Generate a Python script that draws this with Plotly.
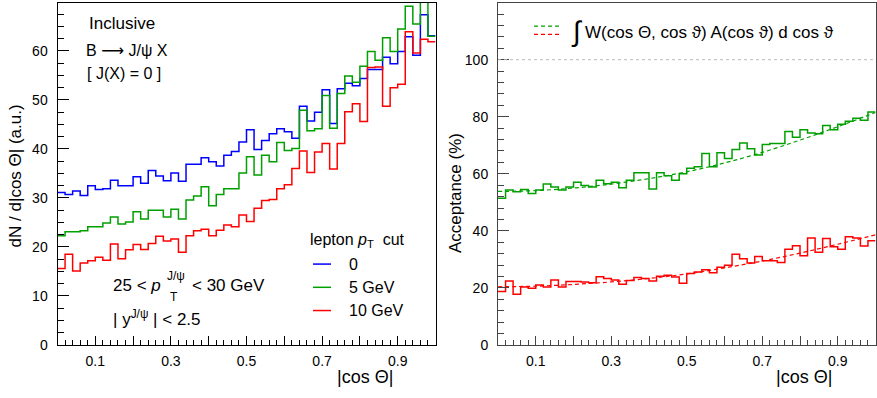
import numpy as np
import plotly.graph_objects as go

W, H = 877, 398
FONT = "Liberation Sans, Arial, Helvetica, sans-serif"

# ---------------- data ----------------
n_bins = 50
bin_edges = np.linspace(0.0, 1.0, n_bins + 1)

# left panel: dN/d|cos Theta| (a.u.)
dn_cut0 = [31.1, 30.7, 31.4, 30.5, 32.5, 31.7, 31.9, 33.6, 32.5, 32.5,
           34.3, 33.0, 35.6, 34.5, 33.5, 35.1, 33.4, 36.9, 36.9, 38.2,
           37.4, 36.5, 38.7, 39.5, 41.4, 43.9, 39.9, 41.7, 43.1, 44.1,
           43.5, 42.2, 48.7, 45.7, 47.5, 52.1, 45.2, 52.3, 53.4, 52.9,
           54.4, 56.2, 56.2, 58.7, 57.4, 59.9, 62.9, 59.1, 67.4, 63.1]
dn_cut5 = [22.3, 23.1, 23.1, 23.3, 24.1, 24.1, 24.9, 26.1, 24.7, 25.1,
           27.2, 25.7, 27.5, 27.5, 26.1, 27.7, 25.7, 29.6, 30.4, 32.3,
           28.4, 30.7, 31.9, 31.9, 35.1, 38.4, 34.7, 38.7, 37.4, 41.3,
           39.7, 40.1, 47.9, 43.7, 44.1, 50.9, 44.2, 51.3, 54.9, 53.6,
           56.9, 59.9, 58.1, 62.7, 59.9, 64.5, 69.1, 65.5, 71.0, 63.0]
dn_cut10 = [15.6, 18.5, 15.1, 16.7, 17.2, 17.9, 17.3, 20.6, 17.6, 19.4,
            20.5, 19.5, 20.7, 22.2, 21.2, 21.6, 18.9, 22.3, 23.3, 23.6,
            22.3, 23.4, 24.5, 24.1, 26.5, 25.2, 27.9, 29.5, 29.7, 31.9,
            32.7, 36.0, 39.6, 35.2, 39.4, 41.1, 35.9, 41.1, 47.6, 49.2,
            45.6, 56.6, 56.7, 48.7, 52.5, 53.2, 63.9, 59.6, 62.4, 61.9]

# right panel: acceptance (%)
acc_cut5 = [51.4, 54.3, 53.7, 54.5, 53.1, 54.3, 56.4, 55.4, 54.3, 55.4,
            57.0, 55.9, 55.4, 57.7, 56.5, 57.0, 55.1, 57.7, 60.4, 60.4,
            54.7, 60.4, 59.3, 57.7, 60.0, 61.9, 62.5, 67.1, 62.5, 67.4,
            65.4, 68.5, 70.8, 68.8, 66.6, 70.3, 70.6, 70.6, 74.8, 72.8,
            75.4, 74.3, 74.0, 76.9, 75.4, 77.4, 78.4, 79.5, 78.8, 81.7]
acc_cut10 = [18.7, 22.4, 17.8, 20.3, 19.9, 21.0, 20.3, 22.8, 20.3, 22.2,
             22.2, 22.1, 21.8, 23.9, 23.3, 22.8, 21.3, 22.6, 23.6, 23.3,
             22.4, 24.1, 24.4, 23.8, 21.6, 25.0, 25.6, 26.4, 25.3, 27.2,
             27.9, 31.8, 30.2, 28.7, 31.0, 29.5, 29.5, 28.9, 33.5, 34.8,
             31.3, 37.5, 32.5, 37.3, 34.4, 33.5, 37.9, 37.5, 34.7, 36.5]

# smooth curves: integral W(cos Theta, cos theta) A(cos theta) dcos theta
curve_x = [0.0, 0.1, 0.2, 0.3, 0.4, 0.5, 0.6, 0.7, 0.8, 0.9, 1.0]
curve_cut5 = [53.8, 54.1, 55.0, 56.4, 58.3, 60.7, 63.8, 67.5, 71.8, 76.5, 81.5]
curve_cut10 = [20.4, 20.6, 21.2, 22.1, 23.3, 24.9, 27.0, 29.4, 32.2, 35.3, 38.6]

x_label_ticks = [0.1, 0.3, 0.5, 0.7, 0.9]
x_plain_ticks = [0.2, 0.4, 0.6, 0.8]
left_y_ticks = [0, 10, 20, 30, 40, 50, 60]
right_y_ticks = [0, 20, 40, 60, 80, 100]
legend_labels = ["0", "5 GeV", "10 GeV"]

BLUE, GREEN, RED = "#0000ff", "#00a000", "#ff0000"
colors = [BLUE, GREEN, RED]

# ---------------- figure ----------------
fig = go.Figure()


def hist_trace(vals, color, xa, ya):
    y = list(vals) + [vals[-1]]
    return go.Scatter(x=bin_edges, y=y, mode="lines", line=dict(color=color, width=1.5, shape="hv"),
                      xaxis=xa, yaxis=ya, showlegend=False, hoverinfo="skip")


for vals, c in zip([dn_cut0, dn_cut5, dn_cut10], colors):
    fig.add_trace(hist_trace(vals, c, "x", "y"))

for vals, c in zip([acc_cut5, acc_cut10], [GREEN, RED]):
    fig.add_trace(hist_trace(vals, c, "x2", "y2"))

for vals, c in zip([curve_cut5, curve_cut10], [GREEN, RED]):
    fig.add_trace(go.Scatter(x=curve_x, y=vals, mode="lines",
                             line=dict(color=c, width=1.2, dash="4px,3px", shape="spline"),
                             xaxis="x2", yaxis="y2", showlegend=False, hoverinfo="skip"))

# invisible helper traces so the overlay tick axes are drawn
for xa, ya in [("x3", "y"), ("x4", "y2")]:
    fig.add_trace(go.Scatter(x=[None], y=[None], mode="lines", xaxis=xa, yaxis=ya,
                             showlegend=False, hoverinfo="skip"))

# panel geometry (pixels)
L0, L1 = 57.5, 435.5
R0, R1 = 498.0, 875.5
YB, YT = 352.0, 3.0


def px(x):
    return x / W


def py(y):
    return 1 - y / H


def xaxis(domain, color, anchor):
    return dict(domain=domain, range=[0, 1], anchor=anchor, showgrid=False, zeroline=False,
                showline=True, linecolor=color, linewidth=1, mirror=True,
                ticks="inside", ticklen=9, tickcolor=color, tickwidth=1,
                tickmode="array", tickvals=x_label_ticks,
                tickformat=".1f",
                tickfont=dict(family=FONT, size=14, color="black"),
                ticklabelstandoff=3,
                minor=dict(tickmode="array", tickvals=[round(v, 2) for v in np.arange(0.02, 1.0, 0.02)],
                           ticks="inside", ticklen=5, tickcolor=color, tickwidth=1, showgrid=False))


def xaxis_plain(domain, color, anchor, over):
    return dict(domain=domain, range=[0, 1], anchor=anchor, overlaying=over, showgrid=False,
                zeroline=False, showline=False, ticks="inside", ticklen=9, tickcolor=color,
                tickwidth=1, tickmode="array", tickvals=x_plain_ticks, showticklabels=False)


def yaxis(domain, rng, tickvals, minor_step, color, anchor):
    return dict(domain=domain, range=rng, anchor=anchor, showgrid=False, zeroline=False,
                showline=True, linecolor=color, linewidth=1, mirror=True,
                ticks="inside", ticklen=11, tickcolor=color, tickwidth=1,
                tickmode="array", tickvals=tickvals,
                tickfont=dict(family=FONT, size=14, color="black"),
                ticklabelstandoff=6,
                minor=dict(tickmode="array",
                           tickvals=[round(v, 2) for v in np.arange(0, rng[1], minor_step)],
                           ticks="inside", ticklen=6, tickcolor=color, tickwidth=1, showgrid=False))


ydom = [py(YB), py(YT)]
fig.update_layout(
    width=W, height=H, autosize=False,
    margin=dict(l=0, r=0, t=0, b=0),
    paper_bgcolor="white", plot_bgcolor="white",
    xaxis=xaxis([px(L0), px(L1)], "black", "y"),
    yaxis=yaxis(ydom, [0, 69.8], left_y_ticks, 2.5, "black", "x"),
    xaxis2=xaxis([px(R0), px(R1)], "#444444", "y2"),
    yaxis2=yaxis(ydom, [0, 119.9], right_y_ticks, 4, "#444444", "x2"),
    xaxis3=xaxis_plain([px(L0), px(L1)], "black", "y", "x"),
    xaxis4=xaxis_plain([px(R0), px(R1)], "#444444", "y2", "x2"),
)

# reference line at 100 %
fig.add_shape(type="line", xref="x2", yref="y2", x0=0, x1=1, y0=100, y1=100,
              line=dict(color="#bbbbbb", width=1, dash="dot"))

anns = []


def ann(text, x, y, size=16, xanchor="left", yanchor="middle", angle=0, color="black"):
    anns.append(dict(text=text, x=px(x), y=py(y), xref="paper", yref="paper", showarrow=False,
                     font=dict(family=FONT, size=size, color=color), xanchor=xanchor, yanchor=yanchor,
                     textangle=angle, borderpad=0))


# axis titles
ann("|cos Θ|", 394, 385, size=18, xanchor="right")
ann("|cos Θ|", 833, 385, size=18, xanchor="right")
ann("dN / d|cos Θ| (a.u.)", 15, 180, size=17, xanchor="center", angle=-90)
ann("Acceptance (%)", 455, 197, size=17, xanchor="center", angle=-90)

# left panel text
ann("Inclusive", 88, 24, size=17)
ann("B <span style='font-family:DejaVu Sans'>⟶</span> J/ψ X", 85, 52, size=16)
ann("[ J(X) = 0 ]", 86, 75, size=16)

ann("25 < <i>p</i>", 112, 291, size=17)
ann("J/ψ", 166, 282, size=12)
ann("T", 169, 303, size=12)
ann("< 30 GeV", 191, 291, size=17)
ann("| y<sup>J/ψ</sup> | < 2.5", 112, 325, size=17)

# left legend
ann("lepton <i>p</i><sub>T</sub>  cut", 309, 245, size=16)
for i, (lab, c) in enumerate(zip(legend_labels, colors)):
    yy = 269.5 + i * 23.7
    fig.add_shape(type="line", xref="paper", yref="paper", x0=px(313), x1=px(331), y0=py(yy), y1=py(yy),
                  line=dict(color=c, width=1.5))
    ann(lab, 348, yy, size=16)

# right legend
for yy, c in [(26.7, GREEN), (35.0, RED)]:
    fig.add_shape(type="line", xref="paper", yref="paper", x0=px(534), x1=px(561), y0=py(yy), y1=py(yy),
                  line=dict(color=c, width=1.2, dash="4px,3px"))
ann("∫", 570, 32, size=28)
ann("W(cos Θ, cos ϑ) A(cos ϑ) d cos ϑ", 584, 33, size=17)

fig.update_layout(annotations=anns)
fig.write_html("out.html",
               config={"displayModeBar": False, "responsive": False},
               post_script="document.body.style.margin='0';document.body.style.overflow='hidden';")
